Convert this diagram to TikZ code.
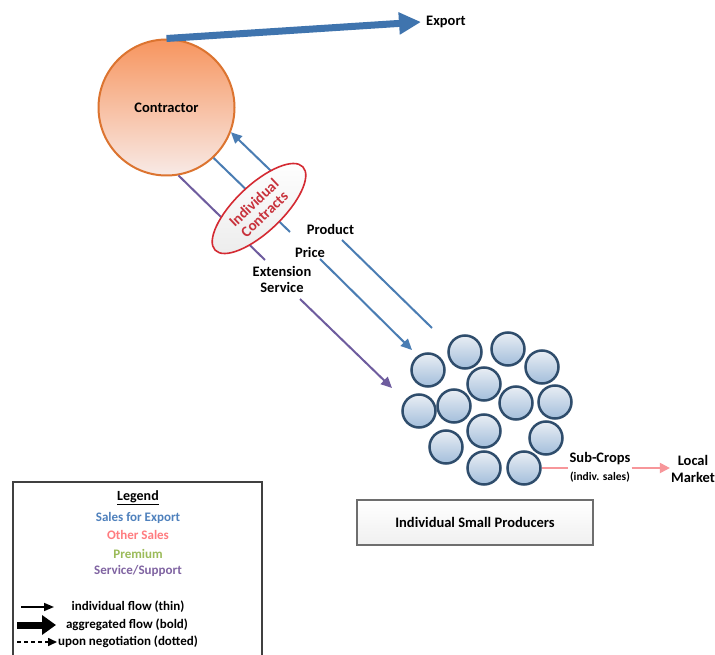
\documentclass[tikz,border=0pt]{standalone}
\usepackage{fontspec}
\setmainfont{Carlito}
\usetikzlibrary{arrows.meta,shapes.geometric}
\definecolor{expblue}{HTML}{3F74AE}
\definecolor{arrblue}{HTML}{4A7DB3}
\definecolor{svcpurple}{HTML}{6E5C9E}
\definecolor{conborder}{HTML}{DC7430}
\definecolor{contop}{HTML}{F7955F}
\definecolor{conbot}{HTML}{F8EAE6}
\definecolor{prodborder}{HTML}{2F4D6C}
\definecolor{prodtop}{HTML}{E9EEF4}
\definecolor{prodbot}{HTML}{A3BEDB}
\definecolor{ellred}{HTML}{D42A32}
\definecolor{elltext}{HTML}{C8323C}
\definecolor{pinkar}{HTML}{F7969A}
\definecolor{sfe}{HTML}{4F81BD}
\definecolor{osales}{HTML}{FF7C80}
\definecolor{prem}{HTML}{9BBB59}
\definecolor{svc}{HTML}{8064A2}
\definecolor{boxgray}{HTML}{6E6E6E}
\begin{document}
\begin{tikzpicture}[x=1pt,y=-1pt,
  font=\bfseries\fontsize{14.5}{16}\selectfont,
  lbl/.style={inner sep=1pt},
  thinflow/.style={line width=2pt,-{Triangle[length=11pt,width=10pt]}},
  plainflow/.style={line width=2pt},
  prod/.style={circle,minimum size=33pt,inner sep=0pt,draw=prodborder,line width=2.5pt,top color=prodtop,bottom color=prodbot},
  legtxt/.style={font=\bfseries\fontsize{13}{14}\selectfont}]
\useasboundingbox (0,0) rectangle (715,655);
\fill[white] (0,0) rectangle (715,655);

% contractor
\node[circle,minimum size=136pt,inner sep=0pt,draw=conborder,line width=2pt,
      top color=contop,bottom color=conbot] (con) at (166.5,107.5) {Contractor};

% export
\coordinate (exptip) at (421,22);
\node[anchor=west,inner sep=0pt] (export) at (426,22) {Export};
\draw[expblue,line width=7pt,-{Triangle[length=22pt,width=21pt]}] (con.north) -- (exptip);

% product flow (to contractor)
\coordinate (prodtail) at (432,328);
\coordinate (pb1) at (298,197);
\coordinate (pb2) at (342,240);
\draw[arrblue,plainflow] (prodtail) -- (pb2);
\draw[arrblue,thinflow] (pb1) -- (con.-21);

% price flow
\coordinate (pricetip) at (412,350);
\coordinate (qb1) at (290,232);
\coordinate (qb2) at (320,259);
\draw[arrblue,plainflow] (con.-47) -- (qb1);
\draw[arrblue,thinflow] (qb2) -- (pricetip);

% extension service
\coordinate (svctip) at (392,388);
\coordinate (sb1) at (265,260);
\coordinate (sb2) at (300,299);
\draw[svcpurple,plainflow] (con.-80.5) -- (sb1);
\draw[svcpurple,thinflow] (sb2) -- (svctip);

% labels
\node[lbl] (lprod) at (330.5,229) {Product};
\node[lbl] (lprice) at (310,252) {Price};
\node[lbl,align=center,font=\bfseries\fontsize{14.5}{16}\selectfont] (lsvc) at (282,279) {Extension\\Service};

% ellipse
\node[ellipse,rotate=43.5,minimum width=121pt,minimum height=47pt,inner sep=0pt,
      draw=ellred,line width=1.6pt,top color=white,bottom color=gray!14,
      text=elltext,align=center,font=\bfseries\fontsize{15}{15.5}\selectfont] (contracts) at (259,208.5) {Individual\\Contracts};

% producers
\node[prod] (p1) at (428,370) {};
\node[prod] (p2) at (465,352) {};
\node[prod] (p3) at (508,349) {};
\node[prod] (p4) at (542,367) {};
\node[prod] (p5) at (484,384) {};
\node[prod] (p6) at (419,411) {};
\node[prod] (p7) at (454,406) {};
\node[prod] (p8) at (516,403) {};
\node[prod] (p9) at (555,402) {};
\node[prod] (p10) at (484,431) {};
\node[prod] (p11) at (546,438) {};
\node[prod] (p12) at (446,447) {};
\node[prod] (p13) at (484,468) {};
\node[prod] (p14) at (524,468) {};

% sub-crops
\node[inner sep=1pt] (sc) at (600,459) {Sub-Crops};
\node[inner sep=1pt,font=\bfseries\fontsize{11.5}{12}\selectfont] (ind) at (600,477) {(indiv. sales)};
\node[align=center,inner sep=1pt,font=\bfseries\fontsize{14.5}{17}\selectfont] (lm) at (693,469) {Local\\Market};
\draw[pinkar,line width=2pt] (p14.east) -- (p14.east -| sc.west);
\draw[pinkar,line width=2pt,-{Triangle[length=10pt,width=10pt]}] (p14.east -| sc.east) -- (p14.east -| lm.west);

% small producers box
\node[draw=boxgray,line width=1.3pt,top color=white,bottom color=gray!12,
      minimum width=236pt,minimum height=45pt,inner sep=0pt] (isp) at (475,522.5) {Individual Small Producers};

% legend
\draw[black!75,line width=1.3pt,fill=white] (13,482) rectangle (262,672);
\node[font=\bfseries\fontsize{14}{15}\selectfont] (legt) at (138,498) {\underline{Legend}};
\node[legtxt,text=sfe] (l1) at (138,518) {Sales for Export};
\node[legtxt,text=osales] (l2) at (138,535) {Other Sales};
\node[legtxt,text=prem] (l3) at (138,554) {Premium};
\node[legtxt,text=svc] (l4) at (138,571) {Service/Support};
\coordinate (a1s) at (21,607); \coordinate (a1e) at (54,607);
\coordinate (a2s) at (17,625); \coordinate (a2e) at (56,625);
\coordinate (a3s) at (17,642); \coordinate (a3e) at (57,642);
\draw[line width=1.6pt,-{Triangle[length=10pt,width=8pt]}] (a1s) -- (a1e);
\draw[line width=7pt,-{Triangle[length=14pt,width=19pt]}] (a2s) -- (a2e);
\draw[line width=1.6pt,dashed,dash pattern=on 4pt off 3pt,-{Triangle[length=9pt,width=8pt]}] (a3s) -- (a3e);
\node[legtxt] (t1) at (128,607) {individual flow (thin)};
\node[legtxt] (t2) at (127,625) {aggregated flow (bold)};
\node[legtxt] (t3) at (128,642) {upon negotiation (dotted)};
\end{tikzpicture}
\end{document}
